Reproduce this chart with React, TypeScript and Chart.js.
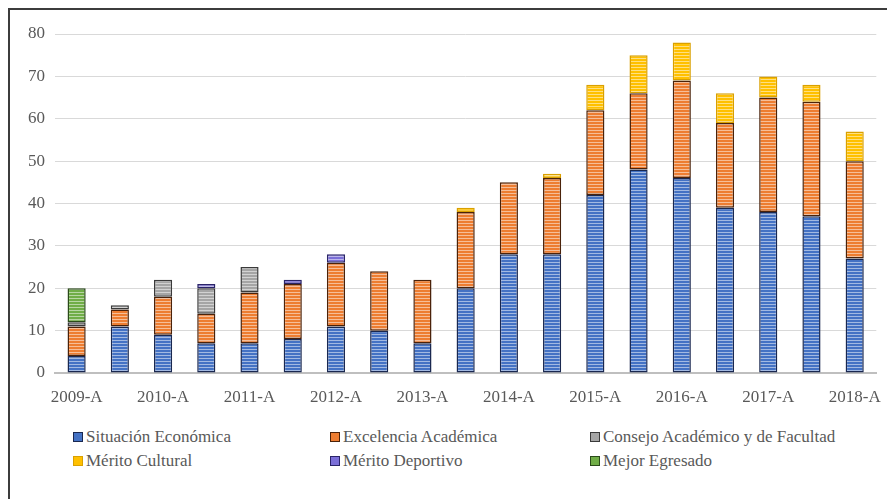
import React, { useEffect, useRef } from "react";
import { Chart, registerables } from "chart.js";

Chart.register(...registerables);

// Semesters 2009-A … 2018-A
const categories = [
  "2009-A", "2009-B", "2010-A", "2010-B", "2011-A", "2011-B", "2012-A", "2012-B",
  "2013-A", "2013-B", "2014-A", "2014-B", "2015-A", "2015-B", "2016-A", "2016-B",
  "2017-A", "2017-B", "2018-A",
];

const situacionEconomica = [4, 11, 9, 7, 7, 8, 11, 10, 7, 20, 28, 28, 42, 48, 46, 39, 38, 37, 27];
const excelenciaAcademica = [7, 4, 9, 7, 12, 13, 15, 14, 15, 18, 17, 18, 20, 18, 23, 20, 27, 27, 23];
const consejoAcademico = [1, 1, 4, 6, 6, 0, 0, 0, 0, 0, 0, 0, 0, 0, 0, 0, 0, 0, 0];
const meritoCultural = [0, 0, 0, 0, 0, 0, 0, 0, 0, 1, 0, 1, 6, 9, 9, 7, 5, 4, 7];
const meritoDeportivo = [0, 0, 0, 1, 0, 1, 2, 0, 0, 0, 0, 0, 0, 0, 0, 0, 0, 0, 0];
const mejorEgresado = [8, 0, 0, 0, 0, 0, 0, 0, 0, 0, 0, 0, 0, 0, 0, 0, 0, 0, 0];

const yTicks = [0, 10, 20, 30, 40, 50, 60, 70, 80];

const seriesNames = [
  "Situación Económica",
  "Excelencia Académica",
  "Consejo Académico y de Facultad",
  "Mérito Cultural",
  "Mérito Deportivo",
  "Mejor Egresado",
];
const seriesValues = [
  situacionEconomica,
  excelenciaAcademica,
  consejoAcademico,
  meritoCultural,
  meritoDeportivo,
  mejorEgresado,
];
const fillColors = ["#4472C4", "#ED7D31", "#A5A5A5", "#FFC000", "#7B6FD8", "#70AD47"];
const edgeColors = ["#1A2850", "#4A220A", "#3A3A3A", "#D9A000", "#2A2468", "#2A4A1A"];

const FONT = "Liberation Serif, DejaVu Serif, serif";

// Fill with thin light horizontal stripes
function stripes(base: string): CanvasPattern | string {
  const c = document.createElement("canvas");
  c.width = 4;
  c.height = 3;
  const g = c.getContext("2d");
  if (!g) return base;
  g.fillStyle = base;
  g.fillRect(0, 0, 4, 3);
  g.fillStyle = "rgba(255,255,255,0.5)";
  g.fillRect(0, 0, 4, 1);
  return g.createPattern(c, "repeat") || base;
}

export default function App() {
  const canvasRef = useRef<HTMLCanvasElement | null>(null);

  useEffect(() => {
    const canvas = canvasRef.current;
    if (!canvas) return;
    const datasets = seriesNames.map((name, i) => ({
      label: name,
      data: seriesValues[i].map((v) => (v === 0 ? null : v)),
      backgroundColor: stripes(fillColors[i]),
      borderColor: edgeColors[i],
      borderWidth: 1.5,
      borderSkipped: false as const,
      barPercentage: 0.84,
      categoryPercentage: 0.5,
    }));

    const chart = new Chart(canvas, {
      type: "bar",
      data: { labels: categories, datasets },
      options: {
        responsive: false,
        animation: false,
        layout: { padding: { top: 24, right: 13, left: 0, bottom: 0 } },
        plugins: { legend: { display: false }, tooltip: { enabled: false } },
        scales: {
          x: {
            stacked: true,
            offset: true,
            grid: { display: false, drawTicks: false },
            border: { display: true, color: "#BFBFBF", width: 2 },
            ticks: {
              autoSkip: false,
              maxRotation: 0,
              padding: 14,
              color: "#595959",
              font: { family: FONT, size: 17 },
              callback: (_v: any, idx: number) => (idx % 2 === 0 ? categories[idx] : ""),
            },
            afterFit: (s: any) => {
              s.height = 47;
            },
          },
          y: {
            stacked: true,
            min: 0,
            max: 80,
            afterBuildTicks: (s: any) => {
              s.ticks = yTicks.map((v) => ({ value: v }));
            },
            grid: { color: "#D9D9D9", lineWidth: 1, drawTicks: false },
            border: { display: false },
            ticks: {
              padding: 10,
              color: "#595959",
              font: { family: FONT, size: 17 },
            },
            afterFit: (s: any) => {
              s.width = 45;
            },
          },
        },
      },
    });
    return () => chart.destroy();
  }, []);

  const legendCols = [63, 320, 580];
  const legendRows = [427, 451];

  return (
    <div
      style={{
        position: "relative",
        width: 887,
        height: 491,
        boxSizing: "border-box",
        borderLeft: "2px solid #3C3C3C",
        borderTop: "2px solid #3C3C3C",
        background: "#fff",
        overflow: "hidden",
      }}
    >
      <canvas
        ref={canvasRef}
        width={885}
        height={410}
        style={{ position: "absolute", left: 0, top: 0, width: 885, height: 410 }}
      />
      {seriesNames.map((name, i) => (
        <div
          key={name}
          style={{
            position: "absolute",
            left: legendCols[i % 3],
            top: legendRows[Math.floor(i / 3)] - 11,
            height: 22,
            display: "flex",
            alignItems: "center",
            fontFamily: FONT,
            fontSize: 17,
            color: "#595959",
            whiteSpace: "nowrap",
          }}
        >
          <span
            style={{
              display: "inline-block",
              width: 8,
              height: 8,
              background: fillColors[i],
              border: `1px solid ${edgeColors[i]}`,
              marginRight: 3,
            }}
          />
          {name}
        </div>
      ))}
    </div>
  );
}
